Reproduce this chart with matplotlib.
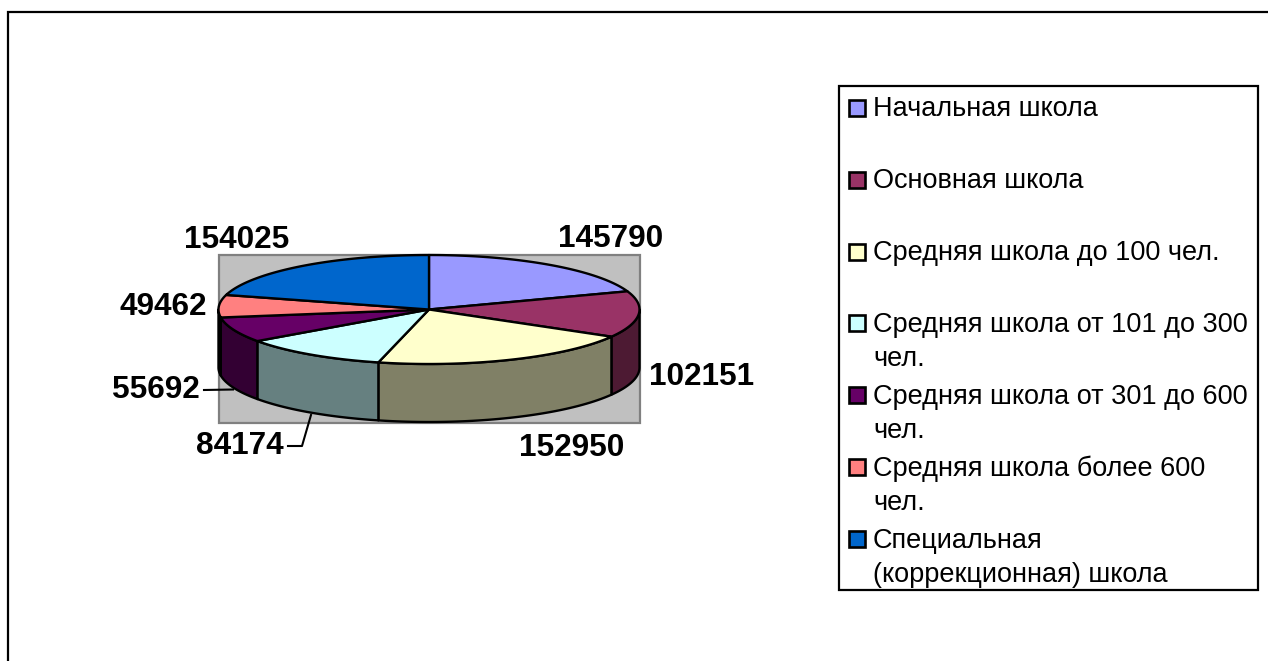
import numpy as np
import matplotlib
matplotlib.use("Agg")
import matplotlib.pyplot as plt
from matplotlib.patches import Polygon, Rectangle

plt.rcParams['font.family'] = ['Liberation Sans', 'DejaVu Sans']

# data
categories = ["Начальная школа", "Основная школа", "Средняя школа до 100 чел.",
              "Средняя школа от 101 до 300\nчел.", "Средняя школа от 301 до 600\nчел.",
              "Средняя школа более 600\nчел.", "Специальная\n(коррекционная) школа"]
values = [145790, 102151, 152950, 84174, 55692, 49462, 154025]
top_colors = ["#9999FF", "#993366", "#FFFFCC", "#CCFFFF", "#660066", "#FF8080", "#0066CC"]
side_colors = ["#4D4D80", "#4D1A33", "#808066", "#668080", "#330033", "#804040", "#003366"]

# layout, in pixels of the picture
label_x = [611, 702, 572, 240, 156, 163, 237]
label_y = [239, 377, 448, 446, 390, 307, 240]
legend_y = [108, 180, 252, 323, 395, 467, 539]
cx, cy, rx, ry, depth = 429, 309.5, 210.5, 54.5, 58

fig = plt.figure(figsize=(12.68, 6.61), dpi=100)
ax = fig.add_axes([0, 0, 1, 1])
ax.set_xlim(0, 1268)
ax.set_ylim(661, 0)
ax.axis("off")

# outer frame (open at the right and bottom, cut by the picture edge)
ax.plot([8, 8, 1268], [661, 11.5, 11.5], color="black", lw=1.6, solid_joinstyle="miter", zorder=1)

# grey plot area
ax.add_patch(Rectangle((219, 255), 421, 168, fc="#C0C0C0", ec="#808080", lw=1.6, zorder=2))


def rim(t):
    return cx + rx * np.sin(t), cy - ry * np.cos(t)


edges = np.cumsum([0] + values) / sum(values) * 2 * np.pi

# side walls, only the front half shows
for i in range(len(values)):
    a = max(edges[i], np.pi / 2)
    b = min(edges[i + 1], 3 * np.pi / 2)
    if a >= b:
        continue
    t = np.linspace(a, b, 80)
    x, y = rim(t)
    xs = np.concatenate([x, x[::-1]])
    ys = np.concatenate([y, y[::-1] + depth])
    ax.add_patch(Polygon(np.column_stack([xs, ys]), closed=True, fc=side_colors[i], ec="black",
                         lw=1.7, joinstyle="round", zorder=3))

# top of the pie
for i in range(len(values)):
    t = np.linspace(edges[i], edges[i + 1], 120)
    x, y = rim(t)
    pts = np.column_stack([np.r_[cx, x], np.r_[cy, y]])
    ax.add_patch(Polygon(pts, closed=True, fc=top_colors[i], ec="black", lw=1.7,
                         joinstyle="round", zorder=4))

# data labels
for i in range(len(values)):
    ax.text(label_x[i], label_y[i], str(values[i]), fontsize=22.7, fontweight="bold",
            ha="center", va="center", color="black", zorder=6)

# leader lines
ax.plot([204, 233], [390, 389.5], color="black", lw=1.5, zorder=5)
ax.plot([288, 302, 311], [446, 446, 415], color="black", lw=1.5, zorder=5)

# legend
ax.add_patch(Rectangle((839, 86), 419, 504, fc="white", ec="black", lw=1.6, zorder=2))
for i, name in enumerate(categories):
    ax.add_patch(Rectangle((849, legend_y[i] - 8), 16, 16, fc=top_colors[i], ec="black",
                           lw=1.9, zorder=3))
    for j, line in enumerate(name.split("\n")):
        ax.text(873, legend_y[i] + 8.5 + j * 35, line, fontsize=19.5, ha="left", va="baseline",
                color="black", zorder=3)

fig.savefig("out.png", dpi=100, facecolor="white")
